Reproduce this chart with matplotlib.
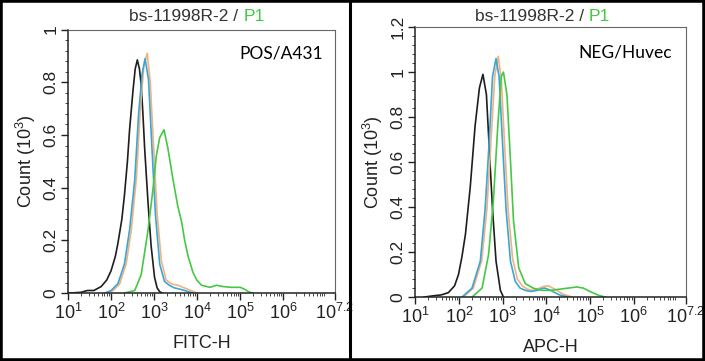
import numpy as np
import matplotlib
matplotlib.use('Agg')
import matplotlib.pyplot as plt
from matplotlib.patches import Rectangle
from matplotlib.lines import Line2D

plt.rcParams['font.family'] = ['Liberation Sans', 'DejaVu Sans']
plt.rcParams['mathtext.fontset'] = 'custom'
plt.rcParams['mathtext.rm'] = 'Liberation Sans'
plt.rcParams['mathtext.it'] = 'Liberation Sans'

# colours of the four histograms
c_black = '#1e1e1e'
c_orange = '#f2b27e'
c_blue = '#3aa6d6'
c_green = '#45c845'

# left panel (FITC-H), x given as log10 of intensity
L_black_x = [1.0, 1.3, 1.45, 1.6, 1.77, 1.9, 2.0, 2.1, 2.16, 2.25, 2.31, 2.38, 2.43, 2.51, 2.56,
             2.61, 2.66, 2.70, 2.74, 2.78, 2.86, 2.93, 3.01, 3.07, 3.13, 3.2]
L_black_y = [0, 0.003, 0.01, 0.01, 0.025, 0.05, 0.085, 0.14, 0.19, 0.28, 0.37, 0.5, 0.62, 0.77, 0.85,
             0.885, 0.85, 0.79, 0.68, 0.55, 0.34, 0.18, 0.06, 0.02, 0.005, 0]
L_blue_x = [1.85, 2.0, 2.16, 2.31, 2.43, 2.55, 2.64, 2.72, 2.79, 2.87, 2.95, 3.03, 3.13, 3.24, 3.35,
            3.47, 3.6, 3.75, 3.9]
L_blue_y = [0, 0.01, 0.036, 0.11, 0.24, 0.43, 0.68, 0.83, 0.89, 0.81, 0.55, 0.30, 0.11, 0.045, 0.03,
            0.02, 0.015, 0.008, 0]
L_orange_x = [1.9, 2.05, 2.2, 2.35, 2.47, 2.59, 2.68, 2.76, 2.84, 2.91, 2.99, 3.07, 3.17, 3.28, 3.4,
              3.55, 3.7, 3.85, 4.0]
L_orange_y = [0, 0.01, 0.035, 0.11, 0.24, 0.44, 0.70, 0.86, 0.91, 0.80, 0.55, 0.30, 0.12, 0.05, 0.035,
              0.03, 0.02, 0.01, 0]
L_green_x = [2.3, 2.55, 2.7, 2.86, 2.97, 3.05, 3.13, 3.23, 3.32, 3.44, 3.55, 3.64, 3.71, 3.79, 3.9,
             3.99, 4.1, 4.3, 4.45, 4.6, 4.8, 5.0, 5.1, 5.2, 5.3]
L_green_y = [0, 0.01, 0.07, 0.24, 0.39, 0.52, 0.59, 0.62, 0.55, 0.43, 0.33, 0.27, 0.2, 0.14, 0.08,
             0.05, 0.03, 0.022, 0.03, 0.025, 0.022, 0.022, 0.015, 0.005, 0]

# right panel (APC-H)
R_black_x = [1.2, 1.38, 1.6, 1.76, 1.9, 1.99, 2.07, 2.15, 2.26, 2.37, 2.47, 2.55, 2.63, 2.69, 2.77,
             2.85, 2.95, 3.02]
R_black_y = [0, 0.005, 0.01, 0.02, 0.05, 0.10, 0.18, 0.28, 0.49, 0.76, 0.93, 0.99, 0.90, 0.68, 0.39,
             0.16, 0.03, 0]
R_blue_x = [2.07, 2.3, 2.49, 2.6, 2.69, 2.77, 2.85, 2.92, 3.0, 3.08, 3.18, 3.29, 3.4, 3.52, 3.65,
            3.8, 3.9, 3.97, 4.1, 4.3, 4.5]
R_blue_y = [0, 0.04, 0.16, 0.39, 0.68, 0.98, 1.06, 0.98, 0.68, 0.39, 0.16, 0.07, 0.04, 0.03, 0.025,
            0.03, 0.038, 0.04, 0.03, 0.01, 0]
R_orange_x = [2.1, 2.33, 2.52, 2.64, 2.73, 2.82, 2.9, 2.97, 3.05, 3.13, 3.23, 3.34, 3.45, 3.57, 3.7,
              3.85, 3.95, 4.05, 4.2, 4.4, 4.6]
R_orange_y = [0, 0.04, 0.16, 0.39, 0.68, 0.98, 1.07, 0.97, 0.66, 0.38, 0.17, 0.08, 0.05, 0.035, 0.03,
              0.04, 0.048, 0.05, 0.035, 0.012, 0]
R_green_x = [2.3, 2.53, 2.68, 2.79, 2.89, 2.97, 3.02, 3.1, 3.18, 3.25, 3.37, 3.52, 3.7, 3.9, 4.1,
             4.3, 4.5, 4.7, 4.85, 5.0, 5.2, 5.35]
R_green_y = [0, 0.04, 0.19, 0.43, 0.76, 0.98, 1.0, 0.90, 0.61, 0.34, 0.13, 0.06, 0.04, 0.03, 0.03,
             0.035, 0.04, 0.045, 0.04, 0.025, 0.008, 0]

x_ticks = [1, 2, 3, 4, 5, 6, 7.2]
x_ticklabels = ['$10^1$', '$10^2$', '$10^3$', '$10^4$', '$10^5$', '$10^6$', '$10^{7.2}$']

panels = [
    dict(rect=[0.0965, 0.188, 0.3785, 0.730], ymax=1.0, yticks=[0, 0.2, 0.4, 0.6, 0.8, 1.0],
         yticklabels=['0', '0.2', '0.4', '0.6', '0.8', '1'], xlabel='FITC-H', tag='POS/A431',
         tag_x=0.955, tag_y=0.91, title_x=0.657, title_y=1.032,
         curves=[(L_black_x, L_black_y, c_black), (L_orange_x, L_orange_y, c_orange),
                 (L_blue_x, L_blue_y, c_blue), (L_green_x, L_green_y, c_green)]),
    dict(rect=[0.589, 0.177, 0.384, 0.748], ymax=1.2, yticks=[0, 0.2, 0.4, 0.6, 0.8, 1.0, 1.2],
         yticklabels=['0', '0.2', '0.4', '0.6', '0.8', '1', '1.2'], xlabel='APC-H', tag='NEG/Huvec',
         tag_x=0.95, tag_y=0.907, title_x=0.642, title_y=1.022,
         curves=[(R_black_x, R_black_y, c_black), (R_orange_x, R_orange_y, c_orange),
                 (R_blue_x, R_blue_y, c_blue), (R_green_x, R_green_y, c_green)]),
]

fig = plt.figure(figsize=(7.05, 3.61), dpi=100)

for p in panels:
    ax = fig.add_axes(p['rect'])
    for cx, cy, col in p['curves']:
        ax.plot(10 ** np.array(cx), cy, color=col, lw=1.2)
    ax.set_xscale('log')
    ax.set_xlim(10 ** 1, 10 ** 7.2)
    ax.set_ylim(0, p['ymax'])
    ax.set_xticks([10 ** v for v in x_ticks])
    ax.set_xticklabels(x_ticklabels, fontsize=13, color='#222222')
    minors = [m * 10 ** k for k in range(1, 7) for m in range(2, 10)]
    ax.set_xticks(minors, minor=True)
    ax.set_yticks(p['yticks'])
    ax.set_yticklabels(p['yticklabels'], rotation=90, va='center', fontsize=12.5, color='#222222')
    ax.set_yticks(np.arange(0, p['ymax'] + 0.001, 0.04), minor=True)
    ax.tick_params(axis='both', which='major', length=5, width=1.0, color='#222222', pad=2)
    ax.tick_params(axis='both', which='minor', length=2.5, width=0.7, color='#444444')
    ax.tick_params(axis='x', which='minor', labelbottom=False)
    ax.spines['left'].set_color('#222222')
    ax.spines['bottom'].set_color('#222222')
    ax.spines['left'].set_linewidth(1.1)
    ax.spines['bottom'].set_linewidth(1.1)
    ax.spines['top'].set_color('#666666')
    ax.spines['right'].set_color('#666666')
    ax.spines['top'].set_linewidth(0.8)
    ax.spines['right'].set_linewidth(0.8)
    ax.set_xlabel(p['xlabel'], fontsize=13, color='#222222', labelpad=9)
    ax.set_ylabel('Count ($10^3$)', fontsize=13, color='#222222', labelpad=4)
    ax.text(p['tag_x'], p['tag_y'], p['tag'], transform=ax.transAxes, ha='right', va='center',
            fontsize=12.5, family='Lato', color='black')
    # title with green P1
    t1 = ax.text(p['title_x'], p['title_y'], 'bs-11998R-2 / ', transform=ax.transAxes, ha='right',
                 va='baseline', fontsize=12.5, color='#333333')
    ax.annotate('P1', xy=(1, 0), xycoords=t1, ha='left', va='bottom', fontsize=12.5, color=c_green)

# frame around the image and divider between panels
fig.patches.append(Rectangle((0, 0), 1, 1, transform=fig.transFigure, fill=False,
                             edgecolor='black', linewidth=4))
fig.lines.append(Line2D([0.4965, 0.4965], [0, 1], transform=fig.transFigure, color='black', lw=2.2))

fig.savefig('out.png', dpi=100)
